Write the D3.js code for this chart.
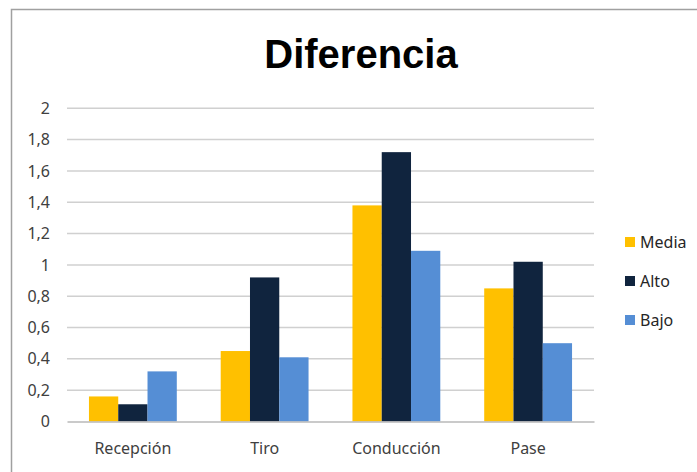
<!DOCTYPE html>
<html><head><meta charset="utf-8">
<script src="https://cdn.jsdelivr.net/npm/d3@7"></script>
<style>body{margin:0;background:#fff}svg{display:block}</style>
</head><body><svg id="c" width="697" height="472"></svg>
<script>
const categories = ["Recepción", "Tiro", "Conducción", "Pase"];
const seriesNames = ["Media", "Alto", "Bajo"];
const media = [0.16, 0.45, 1.38, 0.85];
const alto = [0.11, 0.92, 1.72, 1.02];
const bajo = [0.32, 0.41, 1.09, 0.50];
const yTicks = [0, 0.2, 0.4, 0.6, 0.8, 1, 1.2, 1.4, 1.6, 1.8, 2];
const colors = ["#FFC000", "#10243E", "#558ED5"];
const values = [media, alto, bajo];

const svg = d3.select("#c");
const font = "'Noto Sans', 'Liberation Sans', sans-serif";
svg.append("rect").attr("x", 11.5).attr("y", 9.5).attr("width", 700).attr("height", 480)
  .attr("fill", "#fff").attr("stroke", "#a0a0a0").attr("stroke-width", 1.5);

const pLeft = 67, pRight = 594, pTop = 108.3, pBottom = 421.5;
const x = d3.scaleBand().domain(categories).range([pLeft, pRight]).paddingInner(1.5/4.5).paddingOuter(0.75/4.5);
const xs = d3.scaleBand().domain(seriesNames).range([0, x.bandwidth()]);
const y = d3.scaleLinear().domain([0, 2]).range([pBottom, pTop]);

const fmt = d => String(d).replace(".", ",");
svg.append("g").selectAll("line").data(yTicks.filter(d => d > 0)).join("line")
  .attr("x1", pLeft).attr("x2", pRight).attr("y1", d => y(d)).attr("y2", d => y(d))
  .attr("stroke", "#d0d0d0").attr("stroke-width", 1.5);

const yAxis = svg.append("g").attr("transform", `translate(${pLeft},0)`)
  .call(d3.axisLeft(y).tickValues(yTicks).tickFormat(fmt).tickSize(0).tickPadding(17));
yAxis.select(".domain").remove();
yAxis.selectAll("text").attr("font-family", font).attr("font-size", 16).attr("fill", "#404040");

const g = svg.append("g").selectAll("g").data(categories).join("g")
  .attr("transform", d => `translate(${x(d)},0)`);
g.selectAll("rect").data((c, i) => seriesNames.map((s, j) => ({s, v: values[j][i], j}))).join("rect")
  .attr("x", d => xs(d.s)).attr("width", xs.bandwidth())
  .attr("y", d => y(d.v)).attr("height", d => y(0) - y(d.v))
  .attr("fill", d => colors[d.j]);

const xAxis = svg.append("g").attr("transform", `translate(0,${pBottom})`)
  .call(d3.axisBottom(x).tickSize(0).tickPadding(21));
xAxis.select(".domain").attr("stroke", "#b8b8b8").attr("stroke-width", 1.5);
xAxis.selectAll("text").attr("font-family", font).attr("font-size", 16).attr("fill", "#404040");

svg.append("text").attr("x", 361).attr("y", 68).attr("text-anchor", "middle")
  .attr("font-family", "'Liberation Sans', Arial, sans-serif").attr("font-weight", "bold")
  .attr("font-size", 40).attr("fill", "#000").text("Diferencia");

const lg = svg.append("g").selectAll("g").data(seriesNames).join("g")
  .attr("transform", (d, i) => `translate(625,${242 + i * 39})`);
lg.append("rect").attr("x", 0).attr("y", -5).attr("width", 10).attr("height", 10).attr("fill", (d, i) => colors[i]);
lg.append("text").attr("x", 15).attr("y", 0).attr("dy", "0.35em").attr("font-family", font)
  .attr("font-size", 16).attr("fill", "#262626").text(d => d);
</script></body></html>
